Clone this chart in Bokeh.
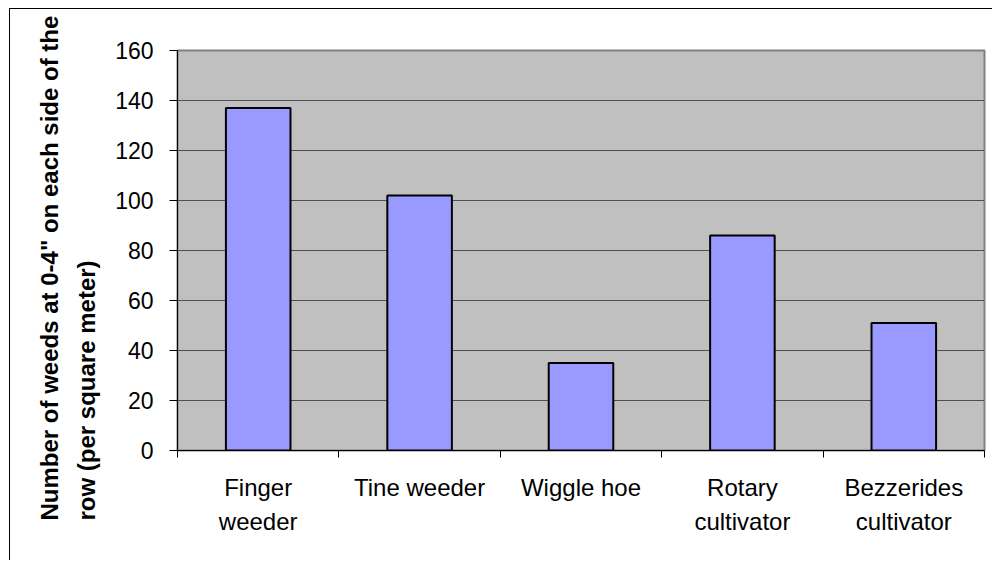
from bokeh.plotting import figure
from bokeh.models import Range1d, FixedTicker, Title
from bokeh.embed import file_html
from bokeh.resources import INLINE

# ---- data ----
categories = ["Finger\nweeder", "Tine weeder", "Wiggle hoe", "Rotary\ncultivator", "Bezzerides\ncultivator"]
weeds = [137, 102, 35, 86, 51]
y_ticks = [0, 20, 40, 60, 80, 100, 120, 140, 160]
y_title = ['Number of weeds at 0-4" on each side of the', 'row (per square meter)']

FONT = "Liberation Sans"

n = len(categories)
centers = [i + 0.5 for i in range(n)]
bounds = list(range(n + 1))

p = figure(width=983, height=552, output_backend="svg", toolbar_location=None,
           x_range=Range1d(0, n), y_range=Range1d(y_ticks[0], y_ticks[-1]),
           min_border_left=167, min_border_right=9, min_border_top=41, min_border_bottom=111,
           background_fill_color="#C0C0C0", border_fill_color="white")
p.styles = {"margin-left": "9px", "margin-top": "8px",
            "border-left": "1px solid #000", "border-top": "1px solid #000"}

p.vbar(x=centers, top=weeds, width=0.4, fill_color="#9999FF",
       line_color="black", line_width=2)

# x axis: labels at category centres, ticks at category boundaries
xa = p.xaxis[0]
xa.ticker = FixedTicker(ticks=centers, minor_ticks=bounds)
xa.major_label_overrides = {c: lab for c, lab in zip(centers, categories)}
xa.major_tick_out = 0
xa.major_tick_in = 0
xa.minor_tick_out = 7
xa.minor_tick_in = 0
xa.minor_tick_line_color = "black"
xa.axis_line_color = "black"
xa.major_label_text_font = FONT
xa.major_label_text_font_size = "24px"
xa.major_label_text_color = "black"
xa.major_label_standoff = 16
xa.major_label_text_line_height = 1.28
p.xgrid.visible = False

ya = p.yaxis[0]
ya.ticker = FixedTicker(ticks=y_ticks, minor_ticks=[])
ya.major_tick_out = 8
ya.major_tick_in = 0
ya.major_tick_line_color = "black"
ya.axis_line_color = "black"
ya.major_label_text_font = FONT
ya.major_label_text_font_size = "23px"
ya.major_label_text_color = "black"
ya.major_label_standoff = 16
p.ygrid.ticker = FixedTicker(ticks=y_ticks)
p.ygrid.grid_line_color = "#505050"
p.ygrid.grid_line_width = 1

p.outline_line_color = "#808080"
p.outline_line_width = 2

# two-line axis title, left-aligned, starting below the x axis
for line, gap in zip(reversed(y_title), [25, -8]):
    t = Title(text=line, align="left", offset=-70, standoff=gap,
              text_font=FONT, text_font_size="24px", text_font_style="bold",
              text_color="black")
    p.add_layout(t, "left")

open("out.html", "w").write(file_html(p, INLINE))
